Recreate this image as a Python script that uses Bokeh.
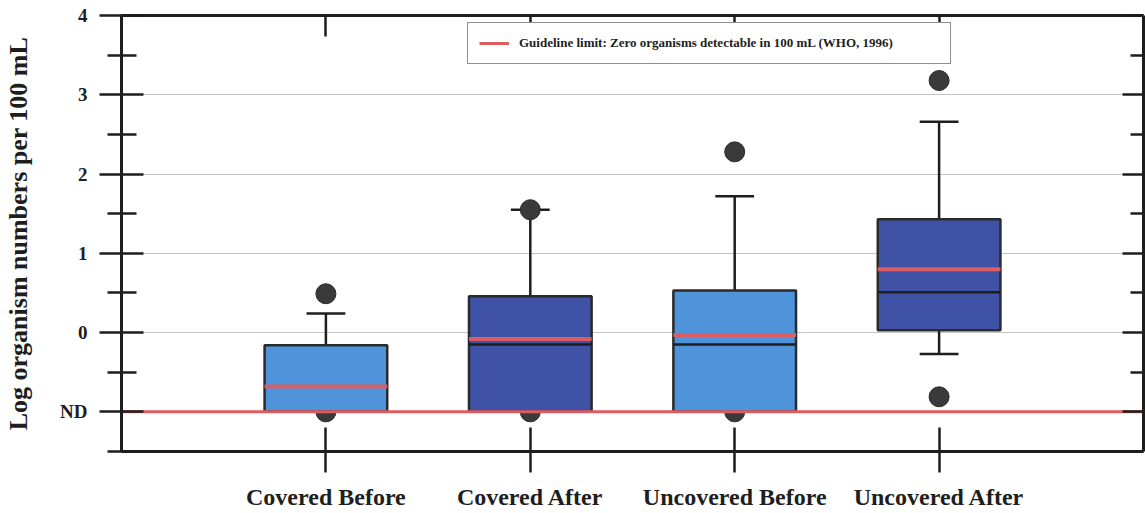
from bokeh.plotting import figure
from bokeh.models import LinearAxis, FixedTicker, Range1d, Legend, LegendItem
from bokeh.embed import file_html
from bokeh.resources import INLINE

# --- data -------------------------------------------------------------
categories = ["Covered Before", "Covered After", "Uncovered Before", "Uncovered After"]
box_low = [-1.0, -1.0, -1.0, 0.03]        # lower quartile
box_high = [-0.16, 0.46, 0.53, 1.43]      # upper quartile
medians = [-1.0, -0.15, -0.15, 0.51]
means = [-0.68, -0.08, -0.03, 0.80]
whisker_low = [-1.0, -1.0, -1.0, -0.27]
whisker_high = [0.24, 1.55, 1.72, 2.66]
outlier_group = [0, 0, 1, 1, 2, 2, 3, 3]
outlier_values = [0.49, -1.0, 1.55, -1.0, 2.28, -1.0, 3.18, -0.81]

nd_level = -1.0                            # "not detected" level on the log axis
y_ticks = [-1, 0, 1, 2, 3, 4]
y_tick_labels = ["ND", "0", "1", "2", "3", "4"]
y_minor_ticks = [-1.5, -0.5, 0.5, 1.5, 2.5, 3.5]
grid_levels = [0, 1, 2, 3]
guideline_label = "Guideline limit: Zero organisms detectable in 100 mL (WHO, 1996)"
y_title = "Log organism numbers per 100 mL"

# --- styling ----------------------------------------------------------
LIGHT_BLUE = "#4f94da"
DARK_BLUE = "#3f52a6"
box_colors = [LIGHT_BLUE, DARK_BLUE, LIGHT_BLUE, DARK_BLUE]
RED = "#dc5c62"
INK = "#1e1e1e"
SERIF = "Liberation Serif"
BOX_WIDTH = 0.6
CAP_HALF = 0.095

xs = [i + 1 for i in range(len(categories))]
x_lo, x_hi = 0, len(categories) + 1

p = figure(
    width=1145, height=513,
    x_range=Range1d(x_lo, x_hi), y_range=Range1d(-1.5, 4.0),
    output_backend="svg", toolbar_location=None,
    min_border_left=121, min_border_right=2,
    min_border_top=15, min_border_bottom=62,
)
p.outline_line_color = None
p.background_fill_color = "white"
p.border_fill_color = "white"

# gridlines
p.xgrid.visible = False
p.ygrid.ticker = FixedTicker(ticks=grid_levels)
p.ygrid.grid_line_color = "#c4c4c4"
p.ygrid.grid_line_width = 1

# whiskers and caps
p.segment(x0=xs, y0=box_high, x1=xs, y1=whisker_high, line_color=INK, line_width=2.5)
p.segment(x0=xs, y0=whisker_low, x1=xs, y1=box_low, line_color=INK, line_width=2.5)
p.segment(x0=[x - CAP_HALF for x in xs], y0=whisker_high,
          x1=[x + CAP_HALF for x in xs], y1=whisker_high, line_color=INK, line_width=2.5)
p.segment(x0=[x - CAP_HALF for x in xs], y0=whisker_low,
          x1=[x + CAP_HALF for x in xs], y1=whisker_low, line_color=INK, line_width=2.5)

# outliers
p.scatter(x=[xs[g] for g in outlier_group], y=outlier_values, size=20,
          fill_color="#3a3a3a", line_color="#2a2a2a")

# boxes
p.vbar(x=xs, bottom=box_low, top=box_high, width=BOX_WIDTH,
       fill_color=box_colors, line_color="#2a2a2a", line_width=2.5)

# medians (black) and means (red)
p.segment(x0=[x - BOX_WIDTH / 2 for x in xs], y0=medians,
          x1=[x + BOX_WIDTH / 2 for x in xs], y1=medians, line_color=INK, line_width=2.5)
p.segment(x0=[x - BOX_WIDTH / 2 for x in xs], y0=means,
          x1=[x + BOX_WIDTH / 2 for x in xs], y1=means, line_color=RED, line_width=4)

# WHO guideline at the detection limit
guide = p.line(x=[x_lo, x_hi], y=[nd_level, nd_level], line_color=RED, line_width=3)

legend = Legend(
    items=[LegendItem(label=guideline_label, renderers=[guide])],
    location=(346, 387), orientation="vertical",
    margin=0, padding=11, spacing=0,
    glyph_width=30, glyph_height=18, label_standoff=10,
    label_width=420, label_height=18,
    label_text_font=SERIF, label_text_font_style="bold", label_text_font_size="13px",
    label_text_color=INK,
    border_line_color=INK, border_line_width=1.5,
    background_fill_color="white", background_fill_alpha=1.0,
)
p.add_layout(legend)

# left axis
yax = p.yaxis[0]
yax.ticker = FixedTicker(ticks=y_ticks, minor_ticks=y_minor_ticks)
yax.major_label_overrides = {t: lab for t, lab in zip(y_ticks, y_tick_labels)}
yax.axis_label = y_title
yax.axis_label_text_font = SERIF
yax.axis_label_text_font_style = "bold"
yax.axis_label_text_font_size = "26px"
yax.axis_label_text_color = INK
yax.axis_label_standoff = 24
yax.major_label_text_font = SERIF
yax.major_label_text_font_style = "bold"
yax.major_label_text_font_size = "19px"
yax.major_label_text_color = INK
yax.major_label_standoff = 12
yax.axis_line_width = 3
yax.axis_line_color = INK
yax.major_tick_in = 22
yax.major_tick_out = 22
yax.minor_tick_in = 15
yax.minor_tick_out = 14
yax.major_tick_line_width = 2.5
yax.minor_tick_line_width = 2.5
yax.major_tick_line_color = INK
yax.minor_tick_line_color = INK

# bottom axis with category names
xax = p.xaxis[0]
xax.ticker = FixedTicker(ticks=xs, minor_ticks=[])
xax.major_label_overrides = {x: c for x, c in zip(xs, categories)}
xax.major_label_text_font = SERIF
xax.major_label_text_font_style = "bold"
xax.major_label_text_font_size = "24px"
xax.major_label_text_color = INK
xax.major_label_standoff = 11
xax.axis_line_width = 3
xax.axis_line_color = INK
xax.major_tick_in = 24
xax.major_tick_out = 21
xax.major_tick_line_width = 2.5
xax.major_tick_line_color = INK

# top frame axis: ticks only, labels switched off
top_ax = LinearAxis(ticker=FixedTicker(ticks=xs, minor_ticks=[]),
                    major_label_text_color=None, major_label_standoff=0,
                    axis_line_width=3, axis_line_color=INK,
                    major_tick_in=21, major_tick_out=0,
                    major_tick_line_width=2.5, major_tick_line_color=INK,
                    minor_tick_in=0, minor_tick_out=0)
p.add_layout(top_ax, "above")

# right frame axis: inward ticks only, labels switched off
right_ax = LinearAxis(ticker=FixedTicker(ticks=y_ticks, minor_ticks=y_minor_ticks),
                      major_label_text_color=None, major_label_standoff=0,
                      axis_line_width=3, axis_line_color=INK,
                      major_tick_in=21, major_tick_out=0,
                      minor_tick_in=13, minor_tick_out=0,
                      major_tick_line_width=2.5, minor_tick_line_width=2.5,
                      major_tick_line_color=INK, minor_tick_line_color=INK)
p.add_layout(right_ax, "right")

open("out.html", "w").write(file_html(p, INLINE))
